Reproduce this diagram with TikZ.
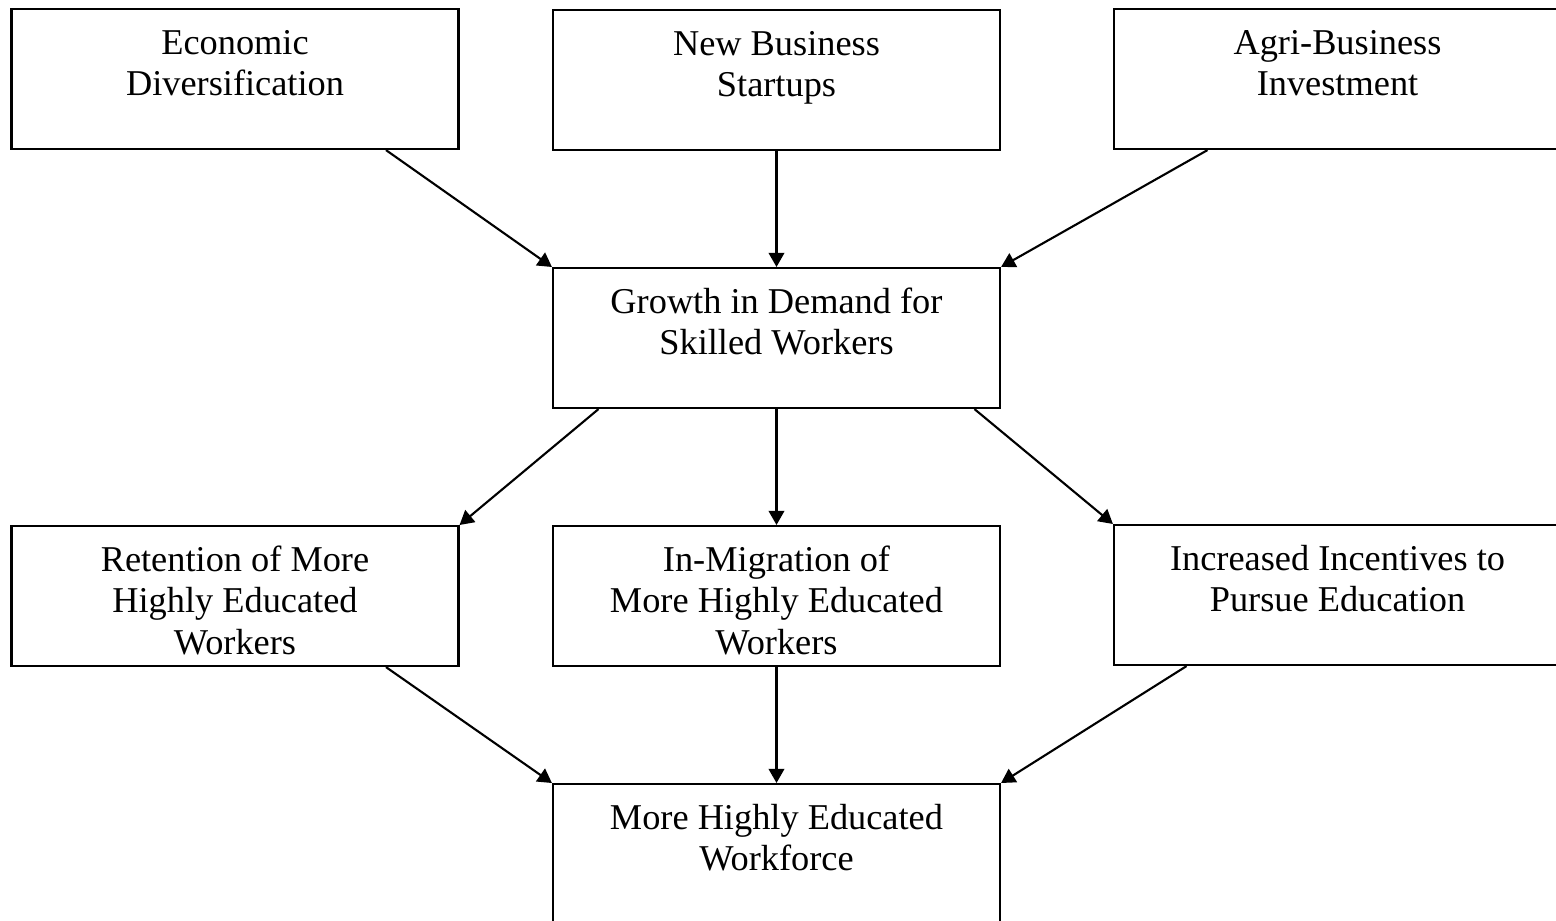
\documentclass[tikz,border=0pt]{standalone}
\usepackage{fontspec}
\setmainfont{Liberation Serif}
\usetikzlibrary{arrows.meta}

\begin{document}
\begin{tikzpicture}[line width=0.6pt,
    box/.style={draw, anchor=north, inner sep=0pt, minimum width=4.47cm, minimum height=1.40cm,
      text width=4.3cm, align=flush center, text height=0.45cm, text depth=0.95cm,
      font=\fontsize{10.34}{11.9}\selectfont},
    arr/.style={-{Triangle[length=4pt, width=4.4pt]}}]
  \useasboundingbox (0,0) rectangle (15.56,-9.21);
  \clip (0,0) rectangle (15.56,-9.21);
  % top row
  \node[box] (econ) at (2.35,-0.08) {Economic\\Diversification};
  \node[box] (startups) at (7.765,-0.09) {New Business\\Startups};
  \node[box] (agri) at (13.375,-0.08) {Agri-Business\\Investment};
  % middle
  \node[box] (demand) at (7.765,-2.67) {Growth in Demand for\\Skilled Workers};
  % third row
  \node[box] (retain) at (2.35,-5.25) {Retention of More\\Highly Educated\\Workers};
  \node[box] (inmig) at (7.765,-5.25) {In-Migration of\\More Highly Educated\\Workers};
  \node[box] (incent) at (13.375,-5.24) {Increased Incentives to\\Pursue Education};
  % bottom
  \node[box] (workforce) at (7.765,-7.83) {More Highly Educated\\Workforce};

  \foreach \a/\b in {startups/demand, demand/inmig, inmig/workforce}
    \draw[arr] (\a) -- (\b);
  \draw[arr] ([xshift=1.51cm]econ.south) -- (demand.north west);
  \draw[arr] ([xshift=-1.30cm]agri.south) -- (demand.north east);
  \draw[arr] ([xshift=-1.78cm]demand.south) -- (retain.north east);
  \draw[arr] ([xshift=1.98cm]demand.south) -- (incent.north west);
  \draw[arr] ([xshift=1.51cm]retain.south) -- (workforce.north west);
  \draw[arr] ([xshift=-1.51cm]incent.south) -- (workforce.north east);
\end{tikzpicture}
\end{document}
